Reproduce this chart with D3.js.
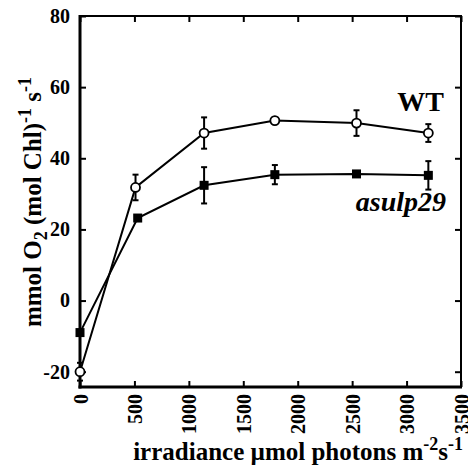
<!DOCTYPE html>
<html><head><meta charset="utf-8">
<script src="https://cdn.jsdelivr.net/npm/d3@7"></script>
<style>
body{margin:0;background:#fff;}
text{font-family:"Liberation Serif","Times New Roman",serif;font-weight:bold;fill:#000;}
</style></head>
<body><svg id="c" width="468" height="466"></svg>
<script>
const wtX = [0, 510, 1140, 1790, 2540, 3200];
const wtY = [-20, 31.8, 47.1, 50.6, 49.9, 47.1];
const wtErr = [2.5, 3.6, 4.4, 0.8, 3.6, 2.5];
const mutX = [0, 530, 1140, 1790, 2540, 3200];
const mutY = [-9, 23.2, 32.4, 35.4, 35.6, 35.2];
const mutErr = [0, 0.8, 5.1, 2.7, 0.6, 4.0];
const xTicks = [0, 500, 1000, 1500, 2000, 2500, 3000, 3500];
const yTicks = [-20, 0, 20, 40, 60, 80];

const svg = d3.select("#c");
const L = 80, R = 461, T = 16, B = 387;
const x = d3.scaleLinear().domain([0, 3500]).range([L, R]);
const y = d3.scaleLinear().domain([-24.3, 80]).range([B, T]);
const fmt = d => String(d);

// axes
const gB = svg.append("g").attr("transform", `translate(0,${B})`)
  .call(d3.axisBottom(x).tickValues(xTicks).tickSizeInner(-6).tickSizeOuter(0).tickPadding(7).tickFormat(fmt));
gB.selectAll("text").attr("transform", "rotate(-90)").attr("text-anchor", "end")
  .attr("x", -7).attr("y", 0).attr("dy", "0.35em").style("font-size", "20px");
const gT = svg.append("g").attr("transform", `translate(0,${T})`)
  .call(d3.axisTop(x).tickValues(xTicks).tickSizeInner(-6).tickSizeOuter(0).tickFormat(""));
const gL = svg.append("g").attr("transform", `translate(${L},0)`)
  .call(d3.axisLeft(y).tickValues(yTicks).tickSizeInner(-6).tickSizeOuter(0).tickPadding(10).tickFormat(fmt));
gL.selectAll("text").style("font-size", "20px").attr("x", -10);
const gR = svg.append("g").attr("transform", `translate(${R},0)`)
  .call(d3.axisRight(y).tickValues(yTicks).tickSizeInner(-6).tickSizeOuter(0).tickFormat(""));

[gB, gT, gL, gR].forEach(g => {
  g.select(".domain").remove();
  g.selectAll("line").attr("stroke", "#000").attr("stroke-width", 2);
});
// frame
svg.append("line").attr("x1", L).attr("x2", L).attr("y1", T - 1).attr("y2", B + 1.5).attr("stroke", "#000").attr("stroke-width", 3);
svg.append("line").attr("x1", L - 1.5).attr("x2", R + 1).attr("y1", B).attr("y2", B).attr("stroke", "#000").attr("stroke-width", 3);
svg.append("line").attr("x1", L).attr("x2", R + 1).attr("y1", T).attr("y2", T).attr("stroke", "#000").attr("stroke-width", 2);
svg.append("line").attr("x1", R).attr("x2", R).attr("y1", T).attr("y2", B).attr("stroke", "#000").attr("stroke-width", 2);

const line = d3.line().x(d => x(d[0])).y(d => y(d[1]));
const wt = wtX.map((v, i) => [v, wtY[i], wtErr[i]]);
const mut = mutX.map((v, i) => [v, mutY[i], mutErr[i]]);

function errBars(data) {
  const g = svg.append("g");
  data.filter(d => d[2] > 0).forEach(d => {
    const cx = x(d[0]);
    g.append("line").attr("x1", cx).attr("x2", cx).attr("y1", y(d[1] + d[2])).attr("y2", y(d[1] - d[2])).attr("stroke", "#000").attr("stroke-width", 2);
    [d[1] + d[2], d[1] - d[2]].forEach(v => {
      g.append("line").attr("x1", cx - 3).attr("x2", cx + 3).attr("y1", y(v)).attr("y2", y(v)).attr("stroke", "#000").attr("stroke-width", 2);
    });
  });
}
errBars(mut);
errBars(wt);
svg.append("path").datum(mut).attr("d", line).attr("fill", "none").attr("stroke", "#000").attr("stroke-width", 2);
svg.append("path").datum(wt).attr("d", line).attr("fill", "none").attr("stroke", "#000").attr("stroke-width", 2);

svg.append("g").selectAll("rect").data(mut).join("rect")
  .attr("x", d => x(d[0]) - 4.5).attr("y", d => y(d[1]) - 4.5).attr("width", 9).attr("height", 9).attr("fill", "#000");
svg.append("g").selectAll("circle").data(wt).join("circle")
  .attr("cx", d => x(d[0])).attr("cy", d => y(d[1])).attr("r", 4.5)
  .attr("fill", "#fff").attr("stroke", "#000").attr("stroke-width", 1.8);

// labels
svg.append("text").attr("x", 444).attr("y", 111).attr("text-anchor", "end").style("font-size", "28px").text("WT");
svg.append("text").attr("x", 446).attr("y", 211).attr("text-anchor", "end").style("font-size", "28px").style("font-style", "italic").text("asulp29");

// x title
const xt = svg.append("text").attr("x", 463).attr("y", 460).attr("text-anchor", "end").style("font-size", "25px");
xt.append("tspan").text("irradiance µmol photons m");
xt.append("tspan").attr("dy", -10).style("font-size", "18px").text("-2");
xt.append("tspan").attr("dy", 10).text("s");
xt.append("tspan").attr("dy", -10).style("font-size", "18px").text("-1");

// y title
const yt = svg.append("text").attr("transform", "translate(41,202) rotate(-90)").attr("text-anchor", "middle").style("font-size", "25px");
yt.append("tspan").text("mmol O");
yt.append("tspan").attr("dy", 6).style("font-size", "18px").text("2");
yt.append("tspan").attr("dy", -6).text(" (mol Chl)");
yt.append("tspan").attr("dy", -10).style("font-size", "18px").text("-1");
yt.append("tspan").attr("dy", 10).text(" s");
yt.append("tspan").attr("dy", -10).style("font-size", "18px").text("-1");
</script></body></html>
